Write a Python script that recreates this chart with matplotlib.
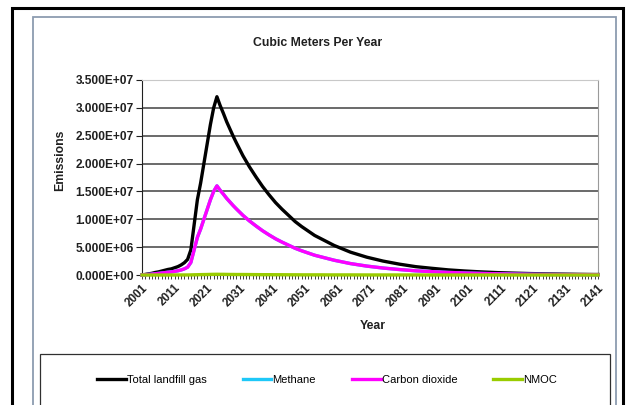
import numpy as np
import matplotlib
matplotlib.use('Agg')
import matplotlib.pyplot as plt
from matplotlib.patches import Rectangle
from matplotlib.ticker import FuncFormatter, MultipleLocator, FixedLocator

plt.rcParams['font.family'] = ['Liberation Sans', 'DejaVu Sans']

# years on the category axis (annual at first, sparser in the long tail)
years = list(range(2001, 2031)) + list(range(2032, 2061, 2)) + list(range(2065, 2141, 5)) + [2141]
year_labels = list(range(2001, 2142, 10))

# emissions in millions of cubic meters per year
total_gas = [0.0, 0.1, 0.2, 0.3, 0.45, 0.55, 0.7, 0.85, 1.0, 1.1,
             1.3, 1.5, 1.8, 2.2, 2.8, 4.5, 9.0, 13.5, 16.5, 20.0,
             23.5, 27.0, 30.0, 32.0, 30.4, 29.0, 27.5, 26.2, 24.9, 23.7,
             21.4, 19.4, 17.6, 15.9, 14.4, 13.0, 11.8, 10.7, 9.6, 8.7,
             7.9, 7.1, 6.5, 5.9, 5.3,
             4.1, 3.2, 2.5, 1.95, 1.5, 1.2, 0.92, 0.72, 0.56, 0.43,
             0.34, 0.26, 0.2, 0.16, 0.12, 0.09, 0.09]
methane = [0.0, 0.05, 0.1, 0.15, 0.22, 0.28, 0.35, 0.42, 0.5, 0.55,
           0.65, 0.75, 0.9, 1.1, 1.4, 2.25, 4.5, 6.75, 8.25, 10.0,
           11.75, 13.5, 15.0, 16.0, 15.2, 14.5, 13.75, 13.1, 12.45, 11.85,
           10.7, 9.7, 8.8, 7.95, 7.2, 6.5, 5.9, 5.35, 4.8, 4.35,
           3.95, 3.55, 3.25, 2.95, 2.65,
           2.05, 1.6, 1.25, 0.98, 0.75, 0.6, 0.46, 0.36, 0.28, 0.22,
           0.17, 0.13, 0.1, 0.08, 0.06, 0.05, 0.045]
carbon_dioxide = [0.0, 0.05, 0.1, 0.15, 0.22, 0.28, 0.35, 0.42, 0.5, 0.55,
                  0.65, 0.75, 0.9, 1.1, 1.4, 2.25, 4.5, 6.75, 8.25, 10.0,
                  11.75, 13.5, 15.0, 16.0, 15.2, 14.5, 13.75, 13.1, 12.45, 11.85,
                  10.7, 9.7, 8.8, 7.95, 7.2, 6.5, 5.9, 5.35, 4.8, 4.35,
                  3.95, 3.55, 3.25, 2.95, 2.65,
                  2.05, 1.6, 1.25, 0.98, 0.75, 0.6, 0.46, 0.36, 0.28, 0.22,
                  0.17, 0.13, 0.1, 0.08, 0.06, 0.05, 0.045]
nmoc = [0.0, 0.0, 0.0, 0.0, 0.0, 0.0, 0.0, 0.0, 0.0, 0.0,
        0.01, 0.01, 0.01, 0.01, 0.01, 0.02, 0.04, 0.05, 0.07, 0.08,
        0.09, 0.11, 0.12, 0.13, 0.12, 0.12, 0.11, 0.10, 0.10, 0.09,
        0.09, 0.08, 0.07, 0.06, 0.06, 0.05, 0.05, 0.04, 0.04, 0.03,
        0.03, 0.03, 0.03, 0.02, 0.02,
        0.02, 0.01, 0.01, 0.01, 0.01, 0.0, 0.0, 0.0, 0.0, 0.0,
        0.0, 0.0, 0.0, 0.0, 0.0, 0.0, 0.0]

series_names = ['Total landfill gas', 'Methane', 'Carbon dioxide', 'NMOC']
series_colors = ['#000000', '#1ec8f8', '#ff00ff', '#99cc00']

W, H = 633, 405
fig = plt.figure(figsize=(W / 100, H / 100), dpi=100)

def fx(px):
    return px / W

def fy(py):
    return 1 - py / H

# outer black frame and chart-area border (both run off the bottom edge)
fig.patches.append(Rectangle((fx(12), fy(460)), fx(611), (460 - 8) / H, transform=fig.transFigure,
                             fill=False, edgecolor='black', linewidth=2.2))
fig.patches.append(Rectangle((fx(33), fy(460)), fx(583), (460 - 17) / H, transform=fig.transFigure,
                             fill=False, edgecolor='#8c9cb0', linewidth=1.3))
fig.patches.append(Rectangle((fx(40), fy(460)), fx(570), (460 - 354) / H, transform=fig.transFigure,
                             fill=False, edgecolor='#303030', linewidth=0.9))

ax = fig.add_axes([fx(142), fy(275), fx(598 - 142), (275 - 80) / H])

all_series = [total_gas, methane, carbon_dioxide, nmoc]
handles = []
for name, vals, col in zip(series_names, all_series, series_colors):
    ln, = ax.plot(years, np.array(vals) * 1e6, color=col, linewidth=2.4, label=name,
                  clip_on=False, zorder=3, solid_joinstyle='round')
    handles.append(ln)

ax.set_xlim(2001, 2141)
ax.set_ylim(0, 3.5e7)

ax.yaxis.set_major_locator(MultipleLocator(5e6))
ax.yaxis.set_major_formatter(FuncFormatter(lambda v, p: '{:.3E}'.format(v)))
ax.xaxis.set_major_locator(FixedLocator(year_labels))
ax.xaxis.set_minor_locator(MultipleLocator(1))
ax.xaxis.set_major_formatter(FuncFormatter(lambda v, p: '%d' % v))

ax.grid(axis='y', color='#505050', linewidth=1.2, zorder=1)
ax.set_axisbelow(True)
ygl = ax.get_ygridlines()
ygl[-1].set_color('#c8c8c8')

ax.spines['top'].set_color('#c8c8c8')
ax.spines['right'].set_color('#9a9a9a')
ax.spines['left'].set_color('#202020')
ax.spines['bottom'].set_color('#202020')

ax.tick_params(axis='y', length=4, width=0.8, labelsize=8.6, pad=2, colors='#202020')
ax.tick_params(axis='x', which='both', length=3, width=0.6, direction='out', colors='#202020')
ax.tick_params(axis='x', which='major', labelsize=8.4, pad=2)
for lab in ax.get_yticklabels():
    lab.set_fontweight('bold')
for lab in ax.get_xticklabels():
    lab.set_fontweight('bold')
    lab.set_rotation(45)
    lab.set_ha('right')
    lab.set_va('top')
    lab.set_rotation_mode('anchor')

fig.text(fx(318), fy(43), 'Cubic Meters Per Year', ha='center', va='center',
         fontsize=8.8, fontweight='bold', color='#202020')
fig.text(fx(60), fy(160), 'Emissions', ha='center', va='center', rotation=90,
         fontsize=8.8, fontweight='bold', color='#202020')
fig.text(fx(373), fy(326), 'Year', ha='center', va='center',
         fontsize=8.8, fontweight='bold', color='#202020')

fig.legend(handles=handles, labels=series_names, loc='center', ncol=4,
           bbox_to_anchor=(fx(327), fy(380)), frameon=False, fontsize=8,
           handlelength=2.6, handletextpad=0.1, columnspacing=3.2)

fig.savefig('out.png', dpi=100)
